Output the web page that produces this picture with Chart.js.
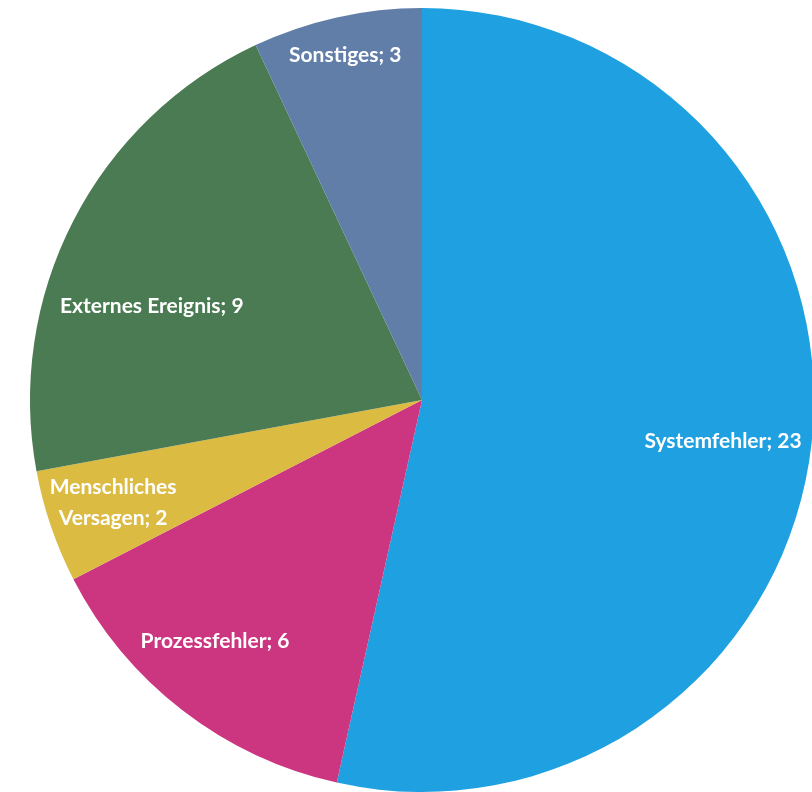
<!DOCTYPE html>
<html>
<head>
<meta charset="utf-8">
<script src="https://cdn.jsdelivr.net/npm/chart.js@4.4.1/dist/chart.umd.min.js"></script>
<style>
  html, body { margin: 0; padding: 0; background: #fff; overflow: hidden; }
  #wrap { position: absolute; left: 0; top: 0; width: 814px; height: 792px; }
</style>
</head>
<body>
<div id="wrap"><canvas id="pie"></canvas></div>
<script>
  "use strict";

  // Data.
  var categories = ['Systemfehler', 'Prozessfehler', ['Menschliches', 'Versagen'], 'Externes Ereignis', 'Sonstiges'];
  var counts = [23, 6, 2, 9, 3];
  var sliceColors = ['#1fa0e1', '#cc3580', '#dbbb42', '#4b7b53', '#617ea8'];

  // Label placement: fraction of radius, plus an optional angle nudge (degrees).
  var labelPlacement = [
    { r: 0.775, a: 1.5 },
    { r: 0.81, a: 3 },
    { r: 0.83, a: 0.5 },
    { r: 0.73, a: -8 },
    { r: 0.90, a: 0 }
  ];

  // Small inline plugin that writes "Name; value" inside each slice.
  var sliceLabels = {
    id: 'sliceLabels',
    afterDatasetsDraw: function (chart) {
      var meta = chart.getDatasetMeta(0);
      var ctx = chart.ctx;
      ctx.save();
      ctx.fillStyle = '#ffffff';
      ctx.font = 'bold 21px Lato, "Open Sans", sans-serif';
      ctx.textAlign = 'center';
      ctx.textBaseline = 'middle';
      meta.data.forEach(function (arc, i) {
        var p = arc.getProps(['x', 'y', 'startAngle', 'endAngle', 'outerRadius'], true);
        var place = labelPlacement[i] || { r: 0.75, a: 0 };
        var mid = (p.startAngle + p.endAngle) / 2 + place.a * Math.PI / 180;
        var rr = p.outerRadius * place.r;
        var cx = p.x + Math.cos(mid) * rr;
        var cy = p.y + Math.sin(mid) * rr;
        var name = categories[i];
        var lines = Array.isArray(name) ? name.slice() : [name];
        lines[lines.length - 1] = lines[lines.length - 1] + '; ' + counts[i];
        var lh = 31;
        var y0 = cy - (lines.length - 1) * lh / 2;
        lines.forEach(function (t, k) {
          ctx.fillText(t, cx, y0 + k * lh);
        });
      });
      ctx.restore();
    }
  };

  var canvas = document.getElementById('pie');
  new Chart(canvas.getContext('2d'), {
    type: 'pie',
    data: {
      labels: categories.map(function (c) { return Array.isArray(c) ? c.join(' ') : c; }),
      datasets: [{
        data: counts,
        backgroundColor: sliceColors,
        borderWidth: 0
      }]
    },
    options: {
      responsive: true,
      maintainAspectRatio: false,
      animation: false,
      layout: { padding: { left: 30, top: 8, right: 0, bottom: 0 } },
      plugins: {
        legend: { display: false },
        tooltip: { enabled: false }
      }
    },
    plugins: [sliceLabels]
  });
</script>
</body>
</html>
